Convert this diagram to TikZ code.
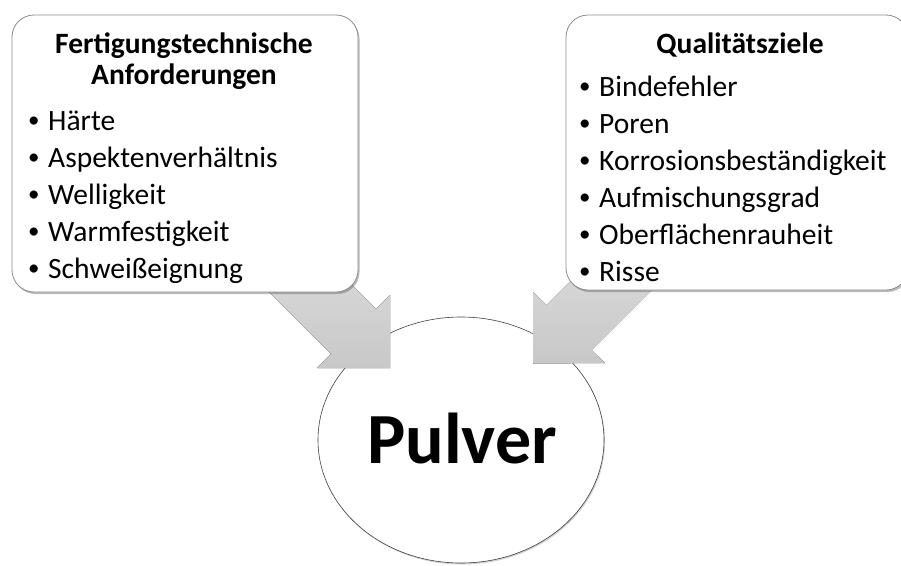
\documentclass[tikz,border=0pt]{standalone}
\usepackage{fontspec}
\setmainfont{Carlito}
\usetikzlibrary{shadows,shapes.geometric}
\definecolor{arrowtop}{HTML}{C8C8C8}
\definecolor{arrowbottom}{HTML}{E2E2E2}
\newcommand{\mybullet}{\makebox[21pt][l]{\hspace{1pt}\raisebox{2.2pt}{\fontsize{23}{25}\selectfont\textbullet}}}
\begin{document}
\begin{tikzpicture}[x=1pt,y=-1pt,
  box/.style={draw=black!45, line width=0.8pt, fill=white, rounded corners=22pt, inner sep=0pt,
    drop shadow={shadow xshift=1.5pt, shadow yshift=-2pt, opacity=0.45, fill=black!60}},
  blockarrow/.style={top color=arrowbottom, bottom color=arrowtop, draw=none},
  item/.style={anchor=base west, inner sep=0pt, font=\fontsize{29.5}{34}\selectfont},
  titletext/.style={anchor=base, inner sep=0pt, font=\fontsize{29.5}{34}\selectfont\bfseries},
]
\useasboundingbox (0,0) rectangle (901,565);
% central ellipse
\node[ellipse, draw=black!75, line width=0.6pt, fill=white, minimum width=286pt, minimum height=246pt, inner sep=0pt,
  drop shadow={shadow xshift=1pt, shadow yshift=-1.5pt, opacity=0.3, fill=black!60}] (pulver) at (461,440) {};
\node[anchor=base, inner sep=0pt, font=\fontsize{72}{76}\selectfont\bfseries] (pulvertext) at (462,463) {Pulver};
% block arrows
\fill[blockarrow] (231,254) -- (331,354) -- (317,368) -- (390,368) -- (390,295) -- (376,309) -- (276,209) -- cycle;
\fill[blockarrow] (646.5,205) -- (546.5,305) -- (533,292) -- (533,363.5) -- (605,363) -- (591.5,350) -- (691.5,250) -- cycle;
% boxes
\node[box, minimum width=346pt, minimum height=277pt] (left) at (185,153.5) {};
\node[box, minimum width=342pt, minimum height=275pt] (right) at (737,152.5) {};
% left texts
\node[titletext] (LT1) at (184,53) {Fertigungstechnische};
\node[titletext] (LT2) at (184,84) {Anforderungen};
\foreach \t [count=\i] in {Härte, Aspektenverhältnis, Welligkeit, Warmfestigkeit, Schweißeignung}
  \node[item] (L\i) at (27, 93+37*\i) {\mybullet\t};
% right texts
\node[titletext] (RT) at (740,53) {Qualitätsziele};
\foreach \t [count=\i] in {Bindefehler, Poren, Korrosionsbeständigkeit, Aufmischungsgrad, Oberflächenrauheit, Risse}
  \node[item] (R\i) at (578, 59+37*\i) {\mybullet\t};
\end{tikzpicture}
\end{document}
